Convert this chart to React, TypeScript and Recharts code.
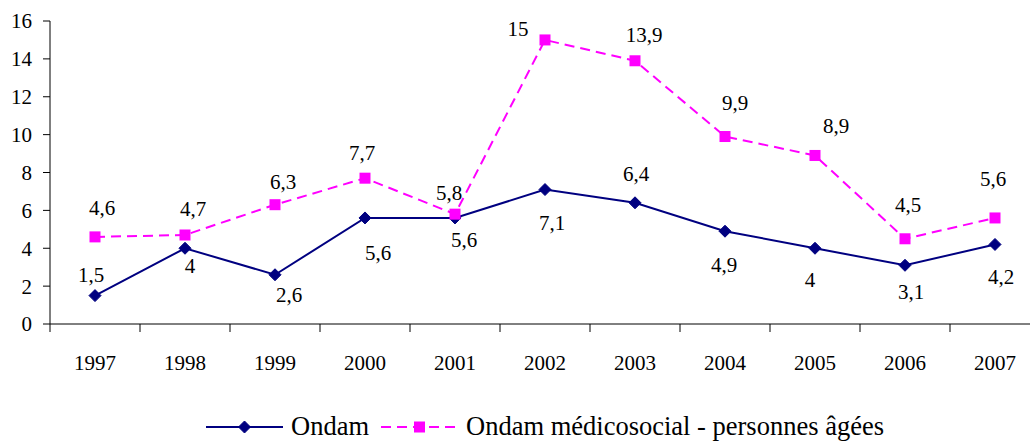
import React from 'react';
import { LineChart, Line, XAxis, YAxis, Legend, LabelList } from 'recharts';

const years = ['1997', '1998', '1999', '2000', '2001', '2002', '2003', '2004', '2005', '2006', '2007'];
const ondam = [1.5, 4, 2.6, 5.6, 5.6, 7.1, 6.4, 4.9, 4, 3.1, 4.2];
const ondamMedico = [4.6, 4.7, 6.3, 7.7, 5.8, 15, 13.9, 9.9, 8.9, 4.5, 5.6];
const yTicks = [0, 2, 4, 6, 8, 10, 12, 14, 16];

// label nudges (relative to each point), as placed in the original
const ondamLabelNudge: [number, number][] = [
  [-4, -21], [5, 18], [14, 20], [13, 35], [9, 22], [7, 33], [1, -29], [-1, 34], [-5, 32], [6, 27], [6, 33],
];
const medicoLabelNudge: [number, number][] = [
  [7, -29], [8, -26], [8, -23], [-3, -25], [-6, -21], [-27, -11], [9, -26], [10, -34], [21, -29], [3, -34], [-2, -39],
];

const data = years.map((y, i) => ({ year: y, ondam: ondam[i], medico: ondamMedico[i] }));

const FONT = "'Liberation Serif', Tinos, 'Nimbus Roman', 'Times New Roman', 'DejaVu Serif', serif";
const NAVY = '#000080';
const MAGENTA = '#FF00FF';
const CHART_W = 1050;
const CHART_H = 441;
const Y_AXIS_W = 50;
const RIGHT_M = 10;
const PLOT_W = CHART_W - Y_AXIS_W - RIGHT_M;
const STEP = PLOT_W / years.length;

const fmt = (v: any) => String(v).replace('.', ',');

const Diamond = ({ cx, cy, r = 6, color }: any) => (
  <polygon points={`${cx},${cy - r} ${cx + r},${cy} ${cx},${cy + r} ${cx - r},${cy}`} fill={color} stroke={color} strokeWidth={1} />
);
const Square = ({ cx, cy, r = 5.5, color }: any) => (
  <rect x={cx - r} y={cy - r} width={2 * r} height={2 * r} fill={color} />
);

const makeLabel = (nudges: [number, number][]) => (p: any) => {
  const { x, y, value, index } = p;
  const [dx, dy] = nudges[index] || [0, -25];
  return (
    <text x={x + dx} y={y + dy + 7} textAnchor="middle" style={{ fontFamily: FONT }} fontSize={21} fill="#000">
      {fmt(value)}
    </text>
  );
};

const XTick = (props: any) => {
  const { x, y, payload, index } = props;
  const last = index === years.length - 1;
  return (
    <g>
      <line x1={x - STEP / 2} y1={y} x2={x - STEP / 2} y2={y + 8} stroke="#000" strokeWidth={1} />
      {last && <line x1={x + STEP / 2} y1={y} x2={x + STEP / 2} y2={y + 8} stroke="#000" strokeWidth={1} />}
      <text x={x} y={y + 46} textAnchor="middle" style={{ fontFamily: FONT }} fontSize={21} fill="#000">
        {payload.value}
      </text>
    </g>
  );
};

const LegendContent = () => (
  <div style={{ display: 'flex', justifyContent: 'center', alignItems: 'flex-start', fontFamily: FONT, fontSize: 26.5, lineHeight: '30px', color: '#000' }}>
    <svg width={77} height={30} style={{ display: 'block' }}>
      <line x1={0} y1={16} x2={77} y2={16} stroke={NAVY} strokeWidth={2} />
      <Diamond cx={38.5} cy={16} r={6} color={NAVY} />
    </svg>
    <span style={{ marginLeft: 8, marginRight: 12, whiteSpace: 'nowrap' }}>Ondam</span>
    <svg width={77} height={30} style={{ display: 'block' }}>
      <line x1={0} y1={16} x2={77} y2={16} stroke={MAGENTA} strokeWidth={2} strokeDasharray="10 6" />
      <Square cx={38.5} cy={16} r={5.5} color={MAGENTA} />
    </svg>
    <span style={{ marginLeft: 8, whiteSpace: 'nowrap' }}>Ondam médicosocial - personnes âgées</span>
  </div>
);

export default function App() {
  return (
    <div style={{ position: 'absolute', left: 0, top: 0, width: 1030, height: 441, overflow: 'hidden', background: '#fff', fontFamily: FONT }}>
      <LineChart width={CHART_W} height={CHART_H} data={data} margin={{ top: 21, right: RIGHT_M, left: 0, bottom: 87 }}>
        <XAxis
          dataKey="year"
          scale="point"
          padding={{ left: STEP / 2, right: STEP / 2 }}
          height={30}
          tickLine={false}
          tickSize={0}
          tickMargin={0}
          axisLine={{ stroke: '#000', strokeWidth: 1 }}
          tick={<XTick />}
          interval={0}
        />
        <YAxis
          domain={[0, 16]}
          ticks={yTicks}
          width={Y_AXIS_W}
          tickSize={7}
          tickMargin={11}
          axisLine={{ stroke: '#000', strokeWidth: 1 }}
          tickLine={{ stroke: '#000', strokeWidth: 1 }}
          tick={{ style: { fontFamily: FONT }, fontSize: 21, fill: '#000' }}
          allowDataOverflow
        />
        <Legend
          verticalAlign="middle"
          align="center"
          layout="horizontal"
          wrapperStyle={{ top: 411, left: Y_AXIS_W, width: PLOT_W, height: 30 }}
          content={<LegendContent />}
        />
        <Line
          type="linear"
          dataKey="ondam"
          name="Ondam"
          stroke={NAVY}
          strokeWidth={2}
          isAnimationActive={false}
          dot={(p: any) => <Diamond key={`od-${p.index}`} cx={p.cx} cy={p.cy} r={6} color={NAVY} />}
          activeDot={false}
        >
          <LabelList dataKey="ondam" content={makeLabel(ondamLabelNudge)} />
        </Line>
        <Line
          type="linear"
          dataKey="medico"
          name="Ondam médicosocial - personnes âgées"
          stroke={MAGENTA}
          strokeWidth={2}
          strokeDasharray="10 6"
          isAnimationActive={false}
          dot={(p: any) => <Square key={`md-${p.index}`} cx={p.cx} cy={p.cy} r={5.5} color={MAGENTA} />}
          activeDot={false}
        >
          <LabelList dataKey="medico" content={makeLabel(medicoLabelNudge)} />
        </Line>
      </LineChart>
    </div>
  );
}
